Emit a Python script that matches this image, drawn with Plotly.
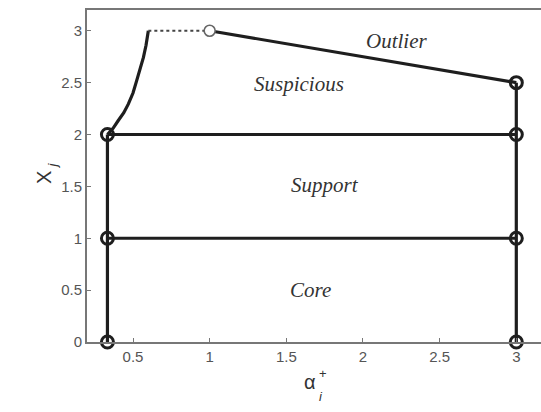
import plotly.graph_objects as go

# data
alpha_min = 1/3
alpha_max = 3.0
curve_x = [0.3333, 0.370, 0.404, 0.440, 0.470, 0.500, 0.524, 0.550, 0.568, 0.585, 0.600]
curve_y = [2.0, 2.06, 2.135, 2.21, 2.295, 2.40, 2.519, 2.64, 2.743, 2.86, 3.0]
dotted_x = [0.600, 1.0]
dotted_y = [3.0, 3.0]
outlier_x = [1.0, 3.0]
outlier_y = [3.0, 2.5]
level_y = [1.0, 2.0]
left_pts_y = [0.0, 1.0, 2.0]
right_pts_y = [0.0, 1.0, 2.0, 2.5]
open_pt = (1.0, 3.0)
region_names = ["Outlier", "Suspicious", "Support", "Core"]
region_x = [2.22, 1.58, 1.75, 1.655]
region_y = [2.90, 2.49, 1.51, 0.50]
xticks = [0.5, 1, 1.5, 2, 2.5, 3]
xticklabels = ["0.5", "1", "1.5", "2", "2.5", "3"]
yticks = [0, 0.5, 1, 1.5, 2, 2.5, 3]
yticklabels = ["0", "0.5", "1", "1.5", "2", "2.5", "3"]

LC = "#1e1e1e"
LW = 3.2

fig = go.Figure()
line = dict(color=LC, width=LW)

fig.add_trace(go.Scatter(x=[alpha_min, alpha_min], y=[0, 2], mode="lines", line=line))
fig.add_trace(go.Scatter(x=[alpha_max, alpha_max], y=[0, 2.5], mode="lines", line=line))
for ly in level_y:
    fig.add_trace(go.Scatter(x=[alpha_min, alpha_max], y=[ly, ly], mode="lines", line=line))
fig.add_trace(go.Scatter(x=curve_x, y=curve_y, mode="lines", line=line))
fig.add_trace(go.Scatter(x=dotted_x, y=dotted_y, mode="lines",
                         line=dict(color="#444", width=2, dash="dot")))
fig.add_trace(go.Scatter(x=outlier_x, y=outlier_y, mode="lines", line=line))

mk = dict(symbol="circle-open", size=12, color=LC, line=dict(width=3, color=LC))
fig.add_trace(go.Scatter(x=[alpha_min]*len(left_pts_y), y=left_pts_y, mode="markers", marker=mk, cliponaxis=False))
fig.add_trace(go.Scatter(x=[alpha_max]*len(right_pts_y), y=right_pts_y, mode="markers", marker=mk, cliponaxis=False))
fig.add_trace(go.Scatter(x=[open_pt[0]], y=[open_pt[1]], mode="markers",
                         marker=dict(symbol="circle", size=11, color="white",
                                     line=dict(width=1.6, color="#666"))))

for name, rx, ry in zip(region_names, region_x, region_y):
    fig.add_annotation(x=rx, y=ry, text="<i>%s</i>" % name, showarrow=False,
                       font=dict(family="Liberation Serif", size=21, color="#333"))

# axis labels
fig.add_annotation(xref="paper", yref="paper", x=(310-87)/454, y=(342-395)/332, text="α",
                   showarrow=False, font=dict(family="Liberation Sans", size=20, color="#333"))
fig.add_annotation(xref="paper", yref="paper", x=(323-87)/454, y=(342-383)/332, text="+",
                   showarrow=False, font=dict(family="Liberation Sans", size=13, color="#333"))
fig.add_annotation(xref="paper", yref="paper", x=(321-87)/454, y=(342-406)/332, text="<i>i</i>",
                   showarrow=False, font=dict(family="Liberation Sans", size=13, color="#333"))
fig.add_annotation(xref="paper", yref="paper", x=(31-87)/454, y=(342-178)/332, text="X",
                   textangle=-90, showarrow=False,
                   font=dict(family="Liberation Sans", size=20, color="#333"))
fig.add_annotation(xref="paper", yref="paper", x=(42-87)/454, y=(342-166)/332, text="<i>j</i>",
                   textangle=-90, showarrow=False,
                   font=dict(family="Liberation Sans", size=13, color="#333"))

axcommon = dict(showgrid=False, zeroline=False, ticks="inside", ticklen=4,
                tickcolor="#777", linecolor="#777", linewidth=2,
                tickfont=dict(family="Liberation Sans", size=15, color="#555"))
fig.update_xaxes(range=[0.2, 3.161], tickvals=xticks, ticktext=xticklabels,
                 showline=True, mirror=True, **axcommon)
fig.update_yaxes(range=[0, 3.2], tickvals=yticks, ticktext=yticklabels,
                 showline=True, mirror=False, **axcommon)

fig.update_layout(width=541, height=412, margin=dict(l=87, r=0, t=10, b=70),
                  paper_bgcolor="white", plot_bgcolor="white", showlegend=False)

fig.write_html("out.html")
